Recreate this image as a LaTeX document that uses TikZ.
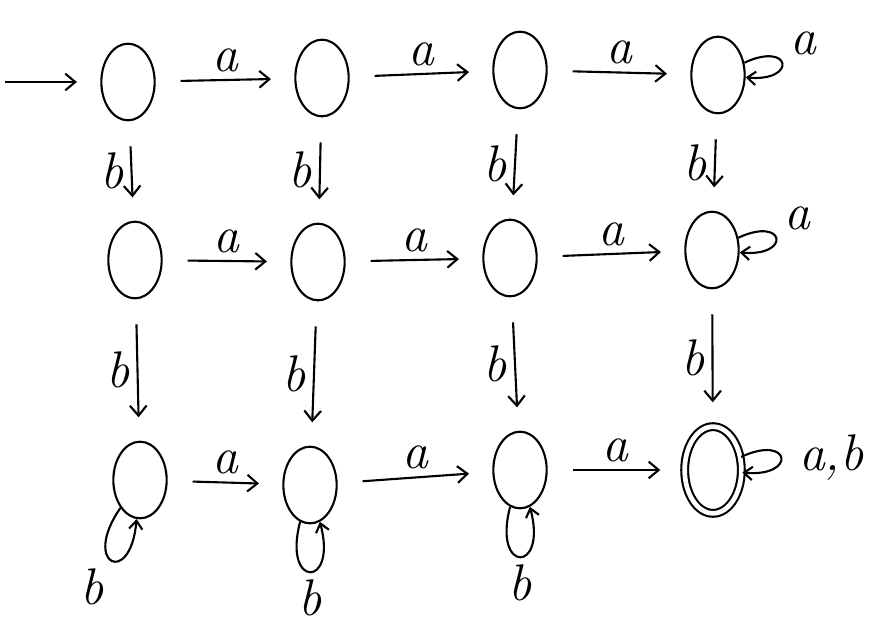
\documentclass[tikz,border=0pt]{standalone}
\usepackage{tikz}
\usetikzlibrary{arrows.meta, positioning, shapes.geometric}

\begin{document}
\begin{tikzpicture}[
  state/.style={draw, ellipse, line width=1.8pt, minimum width=1.6cm, minimum height=2.3cm, inner sep=0pt},
  final/.style={state, double, double distance=4pt, minimum width=1.7cm, minimum height=2.6cm},
  lbl/.style={font=\fontsize{44}{48}\selectfont\itshape, inner sep=6pt},
  arr/.style={-{Straight Barb[length=3mm, width=5mm]}, line width=1.8pt, shorten <=0.75cm, shorten >=0.7cm},
  loopy/.style={-{Straight Barb[length=2.5mm, width=4mm]}, line width=1.8pt, looseness=9}
]
\useasboundingbox (0,0) rectangle (26.67,-19.02);

% states, row by row
\node[state] (q0) at (3.84,-2.46) {};
\node[state] (q1) at (9.66,-2.34) {};
\node[state] (q2) at (15.6,-2.1) {};
\node[state] (q3) at (21.54,-2.25) {};

\node[state] (p0) at (4.05,-7.8) {};
\node[state] (p1) at (9.54,-7.86) {};
\node[state] (p2) at (15.3,-7.74) {};
\node[state] (p3) at (21.36,-7.5) {};

\node[state] (r0) at (4.2,-14.4) {};
\node[state] (r1) at (9.3,-14.55) {};
\node[state] (r2) at (15.6,-14.1) {};
\node[final] (r3) at (21.39,-14.1) {};

\coordinate (start) at (-0.6,-2.46);
\draw[arr] (start) -- (q0);

% a-transitions
\draw[arr] (q0) -- node[lbl, above] {a} (q1);
\draw[arr] (q1) -- node[lbl, above] {a} (q2);
\draw[arr] (q2) -- node[lbl, above] {a} (q3);
\draw[arr] (p0) -- node[lbl, above] {a} (p1);
\draw[arr] (p1) -- node[lbl, above] {a} (p2);
\draw[arr] (p2) -- node[lbl, above] {a} (p3);
\draw[arr] (r0) -- node[lbl, above] {a} (r1);
\draw[arr] (r1) -- node[lbl, above] {a} (r2);
\draw[arr] (r2) -- node[lbl, above] {a} (r3);

% b-transitions
\draw[arr] (q0) -- node[lbl, left] {b} (p0);
\draw[arr] (q1) -- node[lbl, left] {b} (p1);
\draw[arr] (q2) -- node[lbl, left] {b} (p2);
\draw[arr] (q3) -- node[lbl, left] {b} (p3);
\draw[arr] (p0) -- node[lbl, left] {b} (r0);
\draw[arr] (p1) -- node[lbl, left] {b} (r1);
\draw[arr] (p2) -- node[lbl, left] {b} (r2);
\draw[arr] (p3) -- node[lbl, left] {b} (r3);

% loops
\draw[loopy] (q3) to[out=25, in=-5] node[lbl, above right] {a} (q3);
\draw[loopy] (p3) to[out=25, in=-5] node[lbl, above right] {a} (p3);
\draw[loopy] (r3) to[out=25, in=-5] node[lbl, right=0.3cm] {a,b} (r3);
\draw[loopy] (r0) to[out=-125, in=-95] node[lbl, below left] {b} (r0);
\draw[loopy] (r1) to[out=-105, in=-75] node[lbl, below] {b} (r1);
\draw[loopy] (r2) to[out=-105, in=-75] node[lbl, below] {b} (r2);
\end{tikzpicture}
\end{document}
